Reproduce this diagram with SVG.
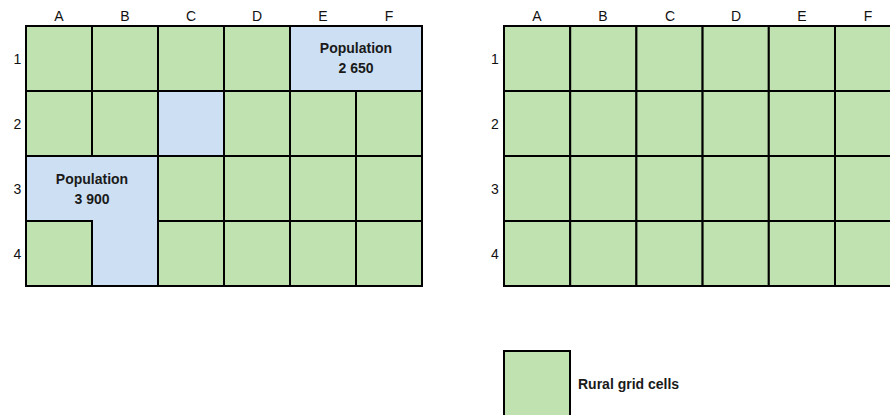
<svg xmlns="http://www.w3.org/2000/svg" width="890" height="415" viewBox="0 0 890 415">
<style>
.g{fill:#c0e2b1;stroke:#000;stroke-width:2}
.b{fill:#cde0f3;stroke:#000;stroke-width:2}
.lbl{font-family:"Liberation Sans",Arial,sans-serif;font-size:14px;fill:#111;text-anchor:middle}
.cap{font-family:"Liberation Sans",Arial,sans-serif;font-size:14px;font-weight:bold;fill:#1a1a1a;text-anchor:middle}
.leg{font-family:"Liberation Sans",Arial,sans-serif;font-size:14px;font-weight:bold;fill:#1a1a1a}
</style>
<rect width="890" height="415" fill="#fff"/>
<g id="left-labels">
<text class="lbl" x="59" y="21">A</text><text class="lbl" x="125" y="21">B</text><text class="lbl" x="191" y="21">C</text><text class="lbl" x="257" y="21">D</text><text class="lbl" x="323" y="21">E</text><text class="lbl" x="389" y="21">F</text>
<text class="lbl" x="17.5" y="64">1</text><text class="lbl" x="17.5" y="129">2</text><text class="lbl" x="17.5" y="194">3</text><text class="lbl" x="17.5" y="259">4</text>
</g>
<g id="left-grid">
<g id="L-A1"><rect class="g" x="26" y="26" width="66" height="65"/></g>
<g id="L-B1"><rect class="g" x="92" y="26" width="66" height="65"/></g>
<g id="L-C1"><rect class="g" x="158" y="26" width="66" height="65"/></g>
<g id="L-D1"><rect class="g" x="224" y="26" width="66" height="65"/></g>
<g id="L-EF1"><rect class="b" x="290" y="26" width="132" height="65"/><text class="cap" x="356" y="53">Population</text><text class="cap" x="356" y="73">2 650</text></g>
<g id="L-A2"><rect class="g" x="26" y="91" width="66" height="65"/></g>
<g id="L-B2"><rect class="g" x="92" y="91" width="66" height="65"/></g>
<g id="L-C2"><rect class="b" x="158" y="91" width="66" height="65"/></g>
<g id="L-D2"><rect class="g" x="224" y="91" width="66" height="65"/></g>
<g id="L-E2"><rect class="g" x="290" y="91" width="66" height="65"/></g>
<g id="L-F2"><rect class="g" x="356" y="91" width="66" height="65"/></g>
<g id="L-AB34"><path class="b" d="M26 156 H158 V286 H92 V221 H26 Z"/><text class="cap" x="92" y="183.5">Population</text><text class="cap" x="92" y="203.5">3 900</text></g>
<g id="L-C3"><rect class="g" x="158" y="156" width="66" height="65"/></g>
<g id="L-D3"><rect class="g" x="224" y="156" width="66" height="65"/></g>
<g id="L-E3"><rect class="g" x="290" y="156" width="66" height="65"/></g>
<g id="L-F3"><rect class="g" x="356" y="156" width="66" height="65"/></g>
<g id="L-A4"><rect class="g" x="26" y="221" width="66" height="65"/></g>
<g id="L-C4"><rect class="g" x="158" y="221" width="66" height="65"/></g>
<g id="L-D4"><rect class="g" x="224" y="221" width="66" height="65"/></g>
<g id="L-E4"><rect class="g" x="290" y="221" width="66" height="65"/></g>
<g id="L-F4"><rect class="g" x="356" y="221" width="66" height="65"/></g>
</g>
<g id="right-labels">
<text class="lbl" x="537" y="21">A</text><text class="lbl" x="603" y="21">B</text><text class="lbl" x="670" y="21">C</text><text class="lbl" x="736" y="21">D</text><text class="lbl" x="802" y="21">E</text><text class="lbl" x="868" y="21">F</text>
<text class="lbl" x="495" y="64">1</text><text class="lbl" x="495" y="129">2</text><text class="lbl" x="495" y="194">3</text><text class="lbl" x="495" y="259">4</text>
</g>
<g id="right-grid">
<g id="R-A1"><rect class="g" x="504" y="26" width="66.2" height="65"/></g>
<g id="R-B1"><rect class="g" x="570.2" y="26" width="66.2" height="65"/></g>
<g id="R-C1"><rect class="g" x="636.4" y="26" width="66.2" height="65"/></g>
<g id="R-D1"><rect class="g" x="702.6" y="26" width="66.2" height="65"/></g>
<g id="R-E1"><rect class="g" x="768.8" y="26" width="66.2" height="65"/></g>
<g id="R-F1"><rect class="g" x="835" y="26" width="66.2" height="65"/></g>
<g id="R-A2"><rect class="g" x="504" y="91" width="66.2" height="65"/></g>
<g id="R-B2"><rect class="g" x="570.2" y="91" width="66.2" height="65"/></g>
<g id="R-C2"><rect class="g" x="636.4" y="91" width="66.2" height="65"/></g>
<g id="R-D2"><rect class="g" x="702.6" y="91" width="66.2" height="65"/></g>
<g id="R-E2"><rect class="g" x="768.8" y="91" width="66.2" height="65"/></g>
<g id="R-F2"><rect class="g" x="835" y="91" width="66.2" height="65"/></g>
<g id="R-A3"><rect class="g" x="504" y="156" width="66.2" height="65"/></g>
<g id="R-B3"><rect class="g" x="570.2" y="156" width="66.2" height="65"/></g>
<g id="R-C3"><rect class="g" x="636.4" y="156" width="66.2" height="65"/></g>
<g id="R-D3"><rect class="g" x="702.6" y="156" width="66.2" height="65"/></g>
<g id="R-E3"><rect class="g" x="768.8" y="156" width="66.2" height="65"/></g>
<g id="R-F3"><rect class="g" x="835" y="156" width="66.2" height="65"/></g>
<g id="R-A4"><rect class="g" x="504" y="221" width="66.2" height="65"/></g>
<g id="R-B4"><rect class="g" x="570.2" y="221" width="66.2" height="65"/></g>
<g id="R-C4"><rect class="g" x="636.4" y="221" width="66.2" height="65"/></g>
<g id="R-D4"><rect class="g" x="702.6" y="221" width="66.2" height="65"/></g>
<g id="R-E4"><rect class="g" x="768.8" y="221" width="66.2" height="65"/></g>
<g id="R-F4"><rect class="g" x="835" y="221" width="66.2" height="65"/></g>
</g>
<g id="legend">
<rect class="g" x="504" y="351" width="66" height="66"/>
<text class="leg" x="578" y="389">Rural grid cells</text>
</g>
<g id="connectors"/>
</svg>
